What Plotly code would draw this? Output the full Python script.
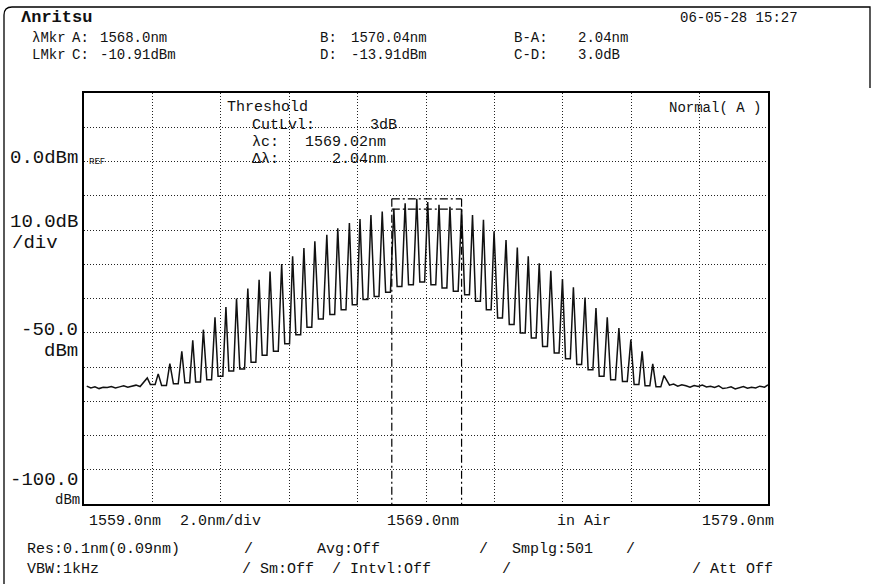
import plotly.graph_objects as go

# ---------------- data ----------------
peak_nm = [1560.85, 1561.17, 1561.51, 1561.86, 1562.18, 1562.49, 1562.83, 1563.15,
           1563.46, 1563.79, 1564.12, 1564.44, 1564.78, 1565.10, 1565.43, 1565.75,
           1566.10, 1566.42, 1566.76, 1567.07, 1567.39, 1567.72, 1568.06, 1568.39,
           1568.73, 1569.05, 1569.38, 1569.70, 1570.04, 1570.36, 1570.68, 1570.99,
           1571.34, 1571.67, 1571.99, 1572.31, 1572.65, 1572.99, 1573.31, 1573.65,
           1573.97, 1574.30, 1574.64, 1574.99, 1575.32, 1575.63, 1575.96]
peak_dbm = [-63.2, -62.0, -59.0, -55.4, -52.2, -49.1, -45.5, -42.5,
            -40.0, -37.1, -34.5, -32.1, -29.9, -27.7, -25.3, -23.3,
            -21.4, -19.5, -18.0, -16.8, -15.6, -14.6, -13.8, -12.2,
            -10.9, -11.8, -12.6, -13.2, -13.9, -15.6, -17.0, -20.4,
            -22.9, -25.1, -27.7, -29.7, -31.9, -34.3, -36.7, -39.7,
            -42.8, -45.5, -48.6, -52.0, -55.4, -59.1, -62.5]
valley_dbm = [-65.1, -65.4, -64.9, -64.6, -64.4, -63.7, -62.7, -61.2,
              -60.6, -58.6, -56.6, -55.4, -53.2, -50.6, -48.4, -46.0,
              -44.7, -43.3, -41.8, -40.3, -39.4, -38.2, -36.5, -36.0,
              -35.2, -36.0, -36.9, -37.9, -38.9, -40.8, -43.3, -45.7,
              -47.6, -50.1, -51.5, -54.0, -55.9, -57.6, -59.3, -60.8,
              -62.7, -63.7, -64.2, -65.1, -65.5, -65.8]
noise_left_nm = [1559.08, 1559.20, 1559.32, 1559.44, 1559.56, 1559.68, 1559.80,
                 1559.92, 1560.04, 1560.16, 1560.28, 1560.40, 1560.52, 1560.64]
noise_left_dbm = [-65.6, -66.1, -65.8, -66.3, -65.9, -66.0, -65.7,
                  -66.1, -65.8, -65.5, -65.9, -65.6, -65.3, -65.7]
noise_right_nm = [1576.12, 1576.24, 1576.36, 1576.48, 1576.60, 1576.72, 1576.84,
                  1576.96, 1577.08, 1577.20, 1577.32, 1577.44, 1577.56, 1577.68,
                  1577.80, 1577.92, 1578.04, 1578.16, 1578.28, 1578.40, 1578.52,
                  1578.64, 1578.76, 1578.90, 1579.00]
noise_right_dbm = [-65.3, -65.0, -65.6, -65.2, -65.5, -65.9, -65.4,
                   -65.7, -65.3, -65.8, -65.6, -66.0, -65.5, -66.3,
                   -66.1, -65.8, -66.4, -66.0, -65.7, -66.2, -65.9,
                   -66.1, -65.6, -65.9, -65.2]

# markers (from header)
mkr_A_nm = 1568.0
mkr_B_nm = 1570.04
mkr_C_dbm = -10.91
mkr_D_dbm = -13.91

x_start, x_stop = 1559.0, 1579.0
y_top, y_bottom = 20.0, -100.0
x_ticks = [1559 + 2 * i for i in range(11)]
y_ticks = [20 - 10 * i for i in range(13)]

header_rows = [
    ["λMkr", "A:", "1568.0nm", "B:", "1570.04nm", "B-A:", "2.04nm"],
    ["LMkr", "C:", "-10.91dBm", "D:", "-13.91dBm", "C-D:", "3.0dB"],
]

# ---------------- build the trace polyline ----------------
xs, ys = list(noise_left_nm), list(noise_left_dbm)
for i, (p, lv) in enumerate(zip(peak_nm, peak_dbm)):
    xs.append(p); ys.append(lv)
    if i < len(valley_dbm):
        mid = (p + peak_nm[i + 1]) / 2
        xs += [mid - 0.07, mid + 0.07]
        ys += [valley_dbm[i], valley_dbm[i]]
xs += noise_right_nm
ys += noise_right_dbm

# ---------------- layout geometry (pixels) ----------------
W, H = 872, 584
L, R, T, B = 84, 768, 93, 504
PW, PH = R - L, B - T


def px(x):
    return (x - L) / PW


def py(y):
    return (B - y) / PH


FONT = "Liberation Mono, DejaVu Sans Mono, monospace"

fig = go.Figure()
fig.add_trace(go.Scatter(x=xs, y=ys, mode="lines",
                         line=dict(color="#111", width=1.5), hoverinfo="skip"))

ax_common = dict(showticklabels=False, ticks="", showgrid=True, gridcolor="#222",
                 gridwidth=1, griddash="1px,2px", zeroline=False, showline=True,
                 linecolor="#000", linewidth=1.5, mirror=True)
fig.update_xaxes(range=[x_start, x_stop], tickvals=x_ticks, **ax_common)
fig.update_yaxes(range=[y_bottom, y_top], tickvals=y_ticks, **ax_common)

shapes = []
dd = "8px,3px,2px,3px"
for xm in (mkr_A_nm, mkr_B_nm):
    shapes.append(dict(type="line", xref="x", yref="y", x0=xm, x1=xm,
                       y0=mkr_C_dbm, y1=y_bottom,
                       line=dict(color="#000", width=1.2, dash=dd)))
for ym in (mkr_C_dbm, mkr_D_dbm):
    shapes.append(dict(type="line", xref="x", yref="y", x0=mkr_A_nm, x1=mkr_B_nm,
                       y0=ym, y1=ym, line=dict(color="#000", width=1.2, dash=dd)))


def P(x, y):
    return f"{px(x):.5f},{py(y):.5f}"


# outer frame (rounded top-left corner)
frame_path = f"M {P(4, 584)} L {P(4, 15)} Q {P(4, 7)} {P(12, 7)} L {P(870, 7)} L {P(870, 88)}"
shapes.append(dict(type="path", xref="paper", yref="paper", path=frame_path,
                   line=dict(color="#000", width=1.3)))

annotations = []


def txt(s, x, y, size=15, anchor="left", color="#111"):
    annotations.append(dict(text=s, x=px(x), y=py(y), xref="paper", yref="paper",
                            xanchor=anchor, yanchor="middle", showarrow=False,
                            font=dict(family=FONT, size=size, color=color)))


# header
txt("<b>Λnritsu</b>", 19, 18, size=17)
txt("06-05-28 15:27", 678, 18, size=14)
hx = [30, 70, 98, 318, 349, 512, 576]
for row, yy in zip(header_rows, [38, 55]):
    for s, xx in zip(row, hx):
        txt(s, xx, yy, size=14)

# left scale labels
txt("0.0dBm", 80, 158, size=19, anchor="right")
txt("REF", 87, 162, size=9)
txt("10.0dB", 80, 222, size=19, anchor="right")
txt("/div", 10, 243, size=19)
txt("-50.0", 80, 330, size=19, anchor="right")
txt("dBm", 80, 351, size=19, anchor="right")
txt("-100.0", 80, 480, size=19, anchor="right")
txt("dBm", 82, 500, size=14, anchor="right")

# in-plot text
txt("Threshold", 225, 108)
txt("CutLvl:", 250, 125)
txt("3dB", 399, 125, anchor="right")
txt("λc:", 250, 142)
txt("1569.02nm", 388, 142, anchor="right")
txt("Δλ:", 250, 159)
txt("2.04nm", 388, 159, anchor="right")
txt("Normal( A )", 763, 108, size=14, anchor="right")

# bottom
txt("1559.0nm", 87, 521)
txt("2.0nm/div", 178, 521)
txt("1569.0nm", 385, 521)
txt("in Air", 555, 521)
txt("1579.0nm", 700, 521)
txt("Res:0.1nm(0.09nm)", 25, 549)
txt("/", 242, 549)
txt("Avg:Off", 315, 549)
txt("/", 477, 549)
txt("Smplg:501", 510, 549)
txt("/", 624, 549)
txt("VBW:1kHz", 25, 569)
txt("/ Sm:Off", 240, 569)
txt("/ Intvl:Off", 330, 569)
txt("/", 500, 569)
txt("/ Att Off", 690, 569)

fig.update_layout(width=W, height=H, margin=dict(l=L, r=W - R, t=T, b=H - B),
                  paper_bgcolor="white", plot_bgcolor="white", showlegend=False,
                  shapes=shapes, annotations=annotations)

fig.write_html("out.html", config={"displayModeBar": False},
               post_script="document.body.style.margin='0';document.body.style.padding='0';")
